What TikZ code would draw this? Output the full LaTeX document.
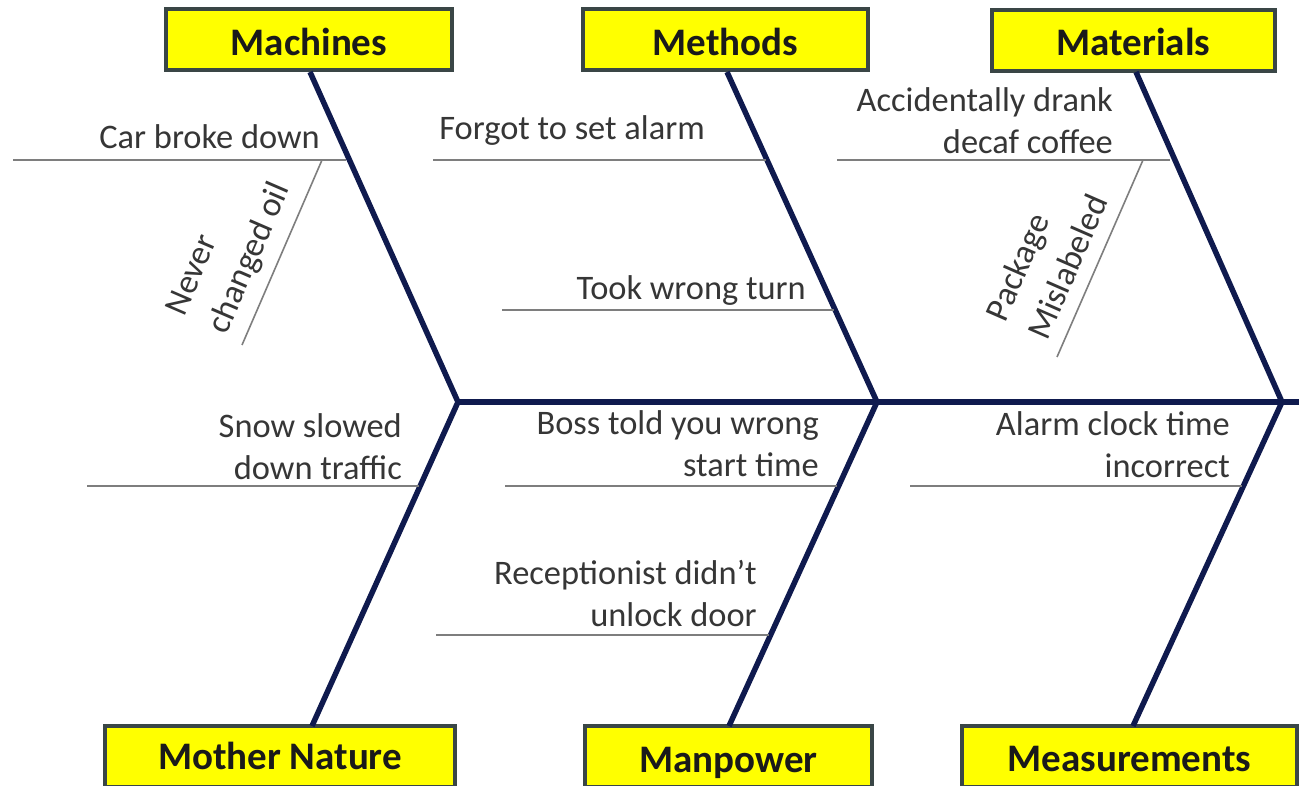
\documentclass[tikz,border=0pt]{standalone}
\usepackage{fontspec}
\setmainfont{Carlito}
\begin{document}
\begin{tikzpicture}[x=1pt,y=1pt,
  catbox/.style={draw=boxedge, line width=4pt, fill=boxfill, inner sep=0pt,
    font={\fontsize{39}{42}\selectfont\bfseries}, text=boxtext,
    text height=25pt, text depth=0pt},
  bone/.style={draw=navy, line width=5.5pt},
  spine/.style={draw=navy, line width=6pt},
  twig/.style={draw=twiggray, line width=1.6pt},
  cause/.style={inner sep=0pt, text=causetext, font={\fontsize{34.4}{42}\selectfont}},
  tiltcause/.style={inner sep=0pt, text=causetext, font={\fontsize{34.4}{46}\selectfont}},
]
\definecolor{navy}{HTML}{0F1A4E}
\definecolor{boxedge}{HTML}{3A4646}
\definecolor{boxfill}{HTML}{FFFF00}
\definecolor{boxtext}{HTML}{1A1A1A}
\definecolor{twiggray}{HTML}{7E7E7E}
\definecolor{causetext}{HTML}{363636}
\useasboundingbox (0,0) rectangle (1299,-786);
\fill[white] (0,0) rectangle (1299,-786);

% category boxes
\node[catbox, minimum width=286, minimum height=61] (mach) at (309,-40) {\raisebox{-3pt}{Machines}};
\node[catbox, minimum width=285, minimum height=61] (meth) at (725.5,-40) {\raisebox{-3pt}{Methods}};
\node[catbox, minimum width=283, minimum height=61] (mat) at (1133.5,-40.5) {\raisebox{-3pt}{Materials}};
\node[catbox, minimum width=350, minimum height=61] (mn) at (280,-756.5) {Mother Nature};
\node[catbox, minimum width=287, minimum height=61] (mp) at (728.5,-756.5) {\raisebox{-3pt}{Manpower}};
\node[catbox, minimum width=335, minimum height=61] (meas) at (1129.5,-756.5) {\raisebox{-2pt}{Measurements}};

% junctions on the spine
\coordinate (j1) at (458,-402);
\coordinate (j2) at (877,-402);
\coordinate (j3) at (1282,-402);
\coordinate (head) at (1299,-402);
\coordinate (bmn) at (312,-726);
\coordinate (bmp) at (729,-726);
\coordinate (bmeas) at (1133,-726);
\coordinate (tmach) at (310,-72);
\coordinate (tmeth) at (727,-72);
\coordinate (tmat) at (1136,-72);

% spine and bones
\draw[spine] (j1) -- (head);
\draw[bone, line join=miter] (tmach) -- (j1) -- (bmn);
\draw[bone, line join=miter] (tmeth) -- (j2) -- (bmp);
\draw[bone, line join=miter] (tmat) -- (j3) -- (bmeas);

% twig end points
\coordinate (cbdA) at (13,-160);   \coordinate (cbdB) at (346,-160);
\coordinate (ncoA) at (322,-160);  \coordinate (ncoB) at (242,-345);
\coordinate (fsaA) at (433,-160);  \coordinate (fsaB) at (766,-160);
\coordinate (twtA) at (502,-310);  \coordinate (twtB) at (834,-310);
\coordinate (adcA) at (837,-160);  \coordinate (adcB) at (1170,-160);
\coordinate (pmA) at (1143,-160);  \coordinate (pmB) at (1057,-357);
\coordinate (sdtA) at (87,-486);   \coordinate (sdtB) at (419,-486);
\coordinate (btwA) at (505,-486);  \coordinate (btwB) at (837,-486);
\coordinate (rduA) at (436,-635);  \coordinate (rduB) at (769,-635);
\coordinate (actA) at (910,-486);  \coordinate (actB) at (1242,-486);

\draw[twig] (cbdA) -- (cbdB);
\draw[twig] (ncoA) -- (ncoB);
\draw[twig] (fsaA) -- (fsaB);
\draw[twig] (twtA) -- (twtB);
\draw[twig] (adcA) -- (adcB);
\draw[twig] (pmA) -- (pmB);
\draw[twig] (sdtA) -- (sdtB);
\draw[twig] (btwA) -- (btwB);
\draw[twig] (rduA) -- (rduB);
\draw[twig] (actA) -- (actB);

% cause labels
\node[cause, anchor=base east] (cbd) at (320,-149) {Car broke down};
\node[cause, anchor=base east] (fsa) at (705,-140) {Forgot to set alarm};
\node[cause, anchor=base east] (twt) at (806,-300) {Took wrong turn};
\node[cause, anchor=south east, align=right] (adc) at (1113,-154) {Accidentally drank\\decaf coffee};
\node[cause, anchor=south east, align=right] (sdt) at (402,-480) {Snow slowed\\down traffic};
\node[cause, anchor=south east, align=right] (btw) at (819,-477) {Boss told you wrong\\start time};
\node[cause, anchor=south east, align=right] (rdu) at (757,-627) {Receptionist didn’t\\unlock door};
\node[cause, anchor=south east, align=right] (act) at (1230,-478) {Alarm clock time\\incorrect};
\node[tiltcause, anchor=south west, align=left, rotate=66.6] (nco) at (232,-338) {Never\\changed oil};
\node[tiltcause, anchor=south west, align=left, rotate=66.4] (pm) at (1048,-342) {Package\\Mislabeled};
\end{tikzpicture}
\end{document}
